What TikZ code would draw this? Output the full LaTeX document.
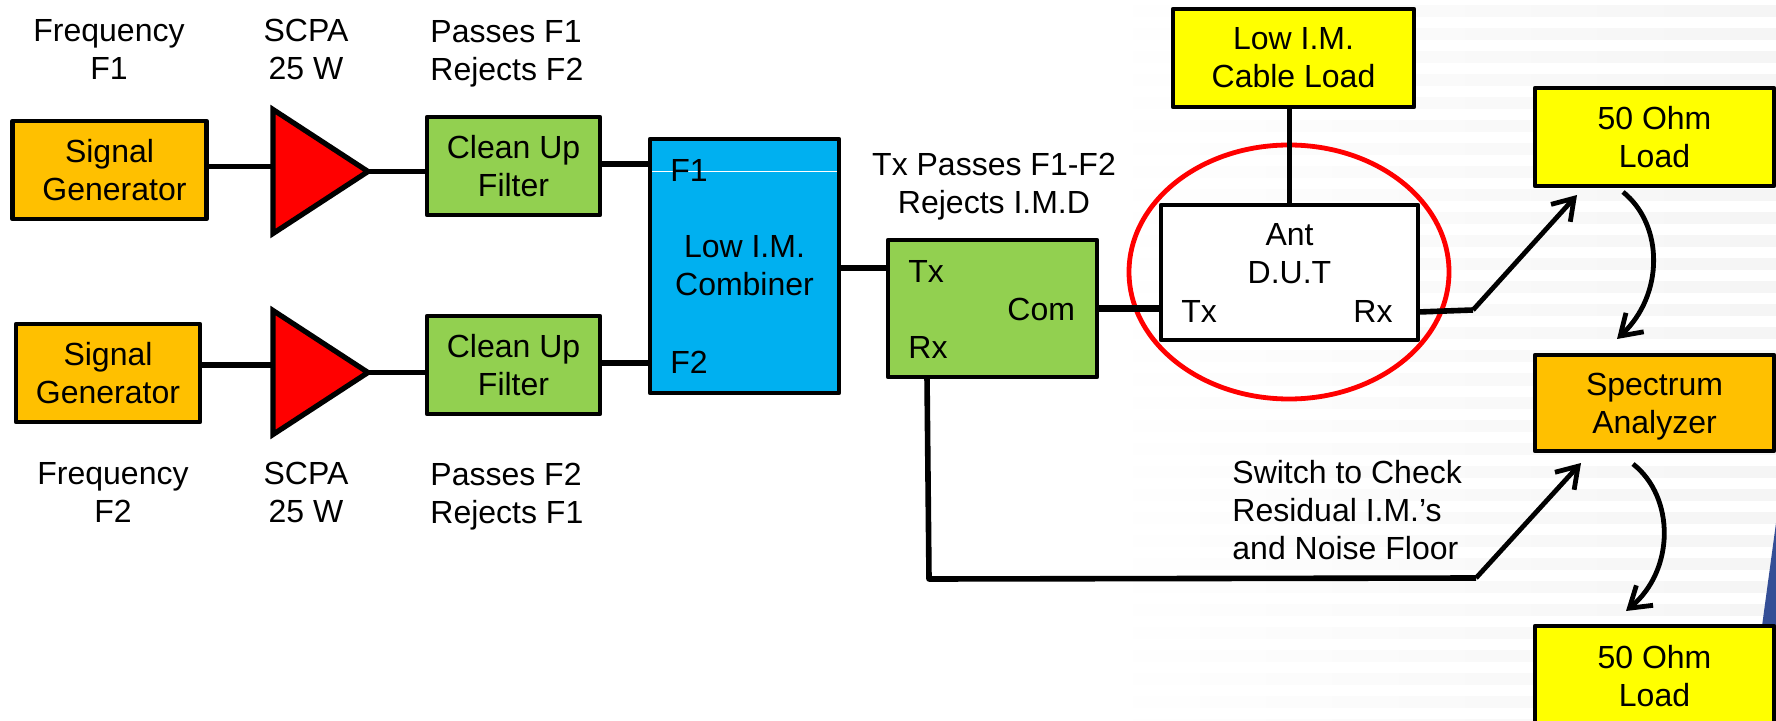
\documentclass[tikz,border=0pt]{standalone}
\usepackage{fontspec}
\setmainfont{Liberation Sans}
\usetikzlibrary{shapes.geometric,arrows.meta}
\definecolor{genorange}{RGB}{255,192,0}
\definecolor{filtgreen}{RGB}{146,208,80}
\definecolor{combblue}{RGB}{0,176,240}
\definecolor{loadyellow}{RGB}{255,255,0}
\definecolor{cornerblue}{RGB}{52,78,150}
\tikzset{
  txt/.style={font=\fontsize{16}{19}\selectfont,align=center,inner sep=0pt},
  box/.style={txt,draw,line width=2.2pt,line join=round,outer sep=0pt},
  amp/.style={draw,fill=red,line width=2.6pt,line join=miter,isosceles triangle,isosceles triangle stretches,shape border rotate=0,minimum width=62pt,minimum height=47.5pt,inner sep=0pt,outer sep=0pt,anchor=apex},
  wire/.style={line width=2.8pt},
  arrowline/.style={line width=2.4pt,-{Straight Barb[length=10pt,width=13pt,line width=2.4pt]}}
}
\begin{document}
\begin{tikzpicture}[x=0.5pt,y=-0.5pt]
\clip (0,0) rectangle (1776,721);
\fill[white] (0,0) rectangle (1776,721);
\foreach \row in {0,1,...,31} {
  \fill[left color=white,right color=black!4,draw=none] (1100,{\row*23+6}) rectangle (1776,{\row*23+17});
}
\fill[cornerblue] (1776,523) -- (1762,626) -- (1776,626) -- cycle;

\node[box,fill=genorange,minimum width=97pt,minimum height=49pt] (1) at (109.5,170) {Signal\\\hspace*{5pt}Generator};
\node[box,fill=genorange,minimum width=92pt,minimum height=49pt] (2) at (108,373) {Signal\\Generator};
\node[amp] (3) at (368,171.5) {};
\node[amp] (4) at (368,372.5) {};
\node[box,fill=filtgreen,minimum width=86.5pt,minimum height=49pt] (5) at (513.5,166) {Clean Up\\Filter};
\node[box,fill=filtgreen,minimum width=86.5pt,minimum height=49pt] (6) at (513.5,365) {Clean Up\\Filter};
\node[box,fill=combblue,minimum width=94.5pt,minimum height=127pt] (7) at (744.5,266) {Low I.M.\\Combiner};
\node[box,fill=filtgreen,minimum width=104.5pt,minimum height=68.5pt] (8) at (992.5,308.5) {};
\node[box,fill=white,minimum width=128.5pt,minimum height=67.5pt] (9) at (1289.5,272.5) {Ant\\D.U.T\\\mbox{}};
\node[box,fill=loadyellow,minimum width=120.5pt,minimum height=49pt] (10) at (1293.5,58) {Low I.M.\\Cable Load};
\node[box,fill=loadyellow,minimum width=119.5pt,minimum height=49pt] (11) at (1654.5,137) {50 Ohm\\Load};
\node[box,fill=genorange,minimum width=119.5pt,minimum height=48pt] (12) at (1654.5,403) {Spectrum\\\smash{Analyzer}};
\node[box,fill=loadyellow,minimum width=119.5pt,minimum height=50pt] (13) at (1654.5,676) {50 Ohm\\Load};
\node[draw=red,line width=2.4pt,ellipse,minimum width=160pt,minimum height=127pt,inner sep=0pt,outer sep=0pt] (14) at (1289,272) {};

\draw[white,line width=0.6pt] ([xshift=1pt,yshift=47.3pt]7.center -| 7.west) -- ([xshift=-1pt,yshift=47.3pt]7.center -| 7.east);

\node[txt] (15) at (109,49) {Frequency\\F1};
\node[txt] (16) at (306,49) {SCPA\\25 W};
\node[txt,anchor=west,align=left] (17) at (430,53.5) {Passes F1\\Rejects F2};
\node[txt] (18) at (113,492) {Frequency\\F2};
\node[txt] (19) at (306,492) {SCPA\\25 W};
\node[txt,anchor=west,align=left] (20) at (430,497) {Passes F2\\Rejects F1};
\node[txt] (21) at (994,186.5) {Tx Passes F1-F2\\Rejects I.M.D};
\node[txt,anchor=west,align=left] (22) at (1232,510) {Switch to Check\\Residual I.M.’s\\and Noise Floor};
\node[txt,anchor=west] (23) at (670,170) {F1};
\node[txt,anchor=west] (24) at (670,362) {F2};
\node[txt,anchor=west] (25) at (908,271) {Tx};
\node[txt,anchor=west] (26) at (1007,309) {Com};
\node[txt,anchor=west] (27) at (908,347) {Rx};
\node[txt,anchor=west] (28) at (1181,311) {Tx};
\node[txt,anchor=west] (29) at (1353,311) {Rx};

\coordinate (30) at (1473,310);
\coordinate (31) at (1577,195);
\coordinate (32) at (929,579);
\coordinate (33) at (1476,578);
\coordinate (34) at (1581,463);
\coordinate (35) at (1623,192);
\coordinate (36) at (1617,339);
\coordinate (37) at (1633,464);
\coordinate (38) at (1626,611);

\path[draw,wire] ([yshift=1.7pt]1.east) -- ([yshift=1.7pt]1.east -| 3.lower side);
\path[draw,wire] (3.apex) -- (3.apex -| 5.west);
\path[draw,wire] ([yshift=1pt]5.east) -- ([yshift=1pt]5.east -| 7.west);
\path[draw,wire] ([yshift=4pt]2.east) -- ([yshift=4pt]2.east -| 4.lower side);
\path[draw,wire] (4.apex) -- (4.apex -| 6.west);
\path[draw,wire] ([yshift=1pt]6.east) -- ([yshift=1pt]6.east -| 7.west);
\path[draw,wire] ([yshift=-1pt]7.east) -- ([yshift=-1pt]7.east -| 8.west);
\path[draw,wire,line width=3.2pt] (8.east) -- (8.east -| 9.west);
\path[draw,wire] (10.south -| 9.north) -- (9.north);
\path[draw,wire,line join=round] ([xshift=19.5pt]8.south west) -- (32) -- (33);
\path[draw,wire] ([yshift=14pt]9.south east) -- (30);
\path[draw,arrowline,line join=round] (30) -- (31);
\path[draw,arrowline,line join=round] (33) -- (34);
\path[draw,arrowline] (35) .. controls (1664,225) and (1664,295) .. (36);
\path[draw,arrowline] (37) .. controls (1675,497) and (1675,570) .. (38);
\end{tikzpicture}
\end{document}
